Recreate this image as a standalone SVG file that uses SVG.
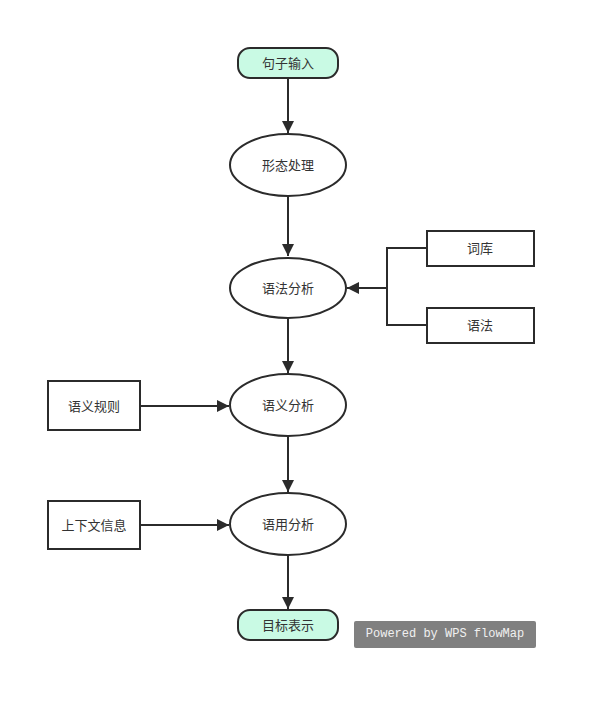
<svg xmlns="http://www.w3.org/2000/svg" width="596" height="703" viewBox="0 0 596 703">
<style>
.n{fill:#fff;stroke:#2b2b2b;stroke-width:2}
.t{fill:#c9fae4;stroke:#2b2b2b;stroke-width:2}
.l{fill:none;stroke:#2b2b2b;stroke-width:2}
text{font-family:"Noto Sans CJK SC","Noto Sans",sans-serif;font-size:13px;fill:#333;text-anchor:middle;dominant-baseline:central}
</style>
<defs>
<marker id="a" viewBox="0 0 10 10" refX="10" refY="5" markerWidth="6" markerHeight="6" orient="auto" markerUnits="strokeWidth">
<path d="M0,0L10,5L0,10z" fill="#2b2b2b"/>
</marker>
</defs>
<rect width="596" height="703" fill="#fff"/>
<g id="edges">
<path class="l" d="M288,79V133" marker-end="url(#a)"/>
<path class="l" d="M288,197V256" marker-end="url(#a)"/>
<path class="l" d="M288,319V373" marker-end="url(#a)"/>
<path class="l" d="M288,437V492" marker-end="url(#a)"/>
<path class="l" d="M288,556V609" marker-end="url(#a)"/>
<path class="l" d="M427,248H387V325H427"/>
<path class="l" d="M387,288H347" marker-end="url(#a)"/>
<path class="l" d="M141,406H229" marker-end="url(#a)"/>
<path class="l" d="M141,525H229" marker-end="url(#a)"/>
</g>
<g id="n1"><rect class="t" x="238" y="48" width="100" height="30" rx="12"/><text x="288" y="62">句子输入</text></g>
<g id="n2"><ellipse class="n" cx="288" cy="165" rx="58" ry="31"/><text x="288" y="164">形态处理</text></g>
<g id="n3"><ellipse class="n" cx="288" cy="288" rx="58" ry="30"/><text x="288" y="287">语法分析</text></g>
<g id="n4"><ellipse class="n" cx="288" cy="405" rx="58" ry="31"/><text x="288" y="404">语义分析</text></g>
<g id="n5"><ellipse class="n" cx="288" cy="524" rx="58" ry="31"/><text x="288" y="523">语用分析</text></g>
<g id="n6"><rect class="t" x="238" y="610" width="100" height="30" rx="12"/><text x="288" y="624">目标表示</text></g>
<g id="n7"><rect class="n" x="427" y="231" width="107" height="35"/><text x="480" y="247">词库</text></g>
<g id="n8"><rect class="n" x="427" y="308" width="107" height="35"/><text x="480" y="324">语法</text></g>
<g id="n9"><rect class="n" x="48" y="381" width="92" height="49"/><text x="94" y="405">语义规则</text></g>
<g id="n10"><rect class="n" x="48" y="501" width="92" height="48"/><text x="94" y="524">上下文信息</text></g>
<g id="wm"><rect x="354" y="621" width="182" height="27" rx="2" fill="#808080"/><text x="445" y="634" style="font-family:'Liberation Mono',monospace;font-size:12px;fill:#f0f0f0">Powered by WPS flowMap</text></g>
</svg>
